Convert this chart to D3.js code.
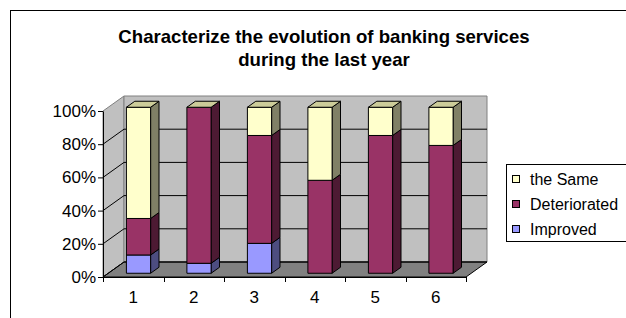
<!DOCTYPE html>
<html>
<head>
<meta charset="utf-8">
<script src="https://cdn.jsdelivr.net/npm/d3@7"></script>
<style>
  body { margin: 0; background: #fff; }
  svg { display: block; font-family: "Liberation Sans", Arial, sans-serif; }
</style>
</head>
<body>
<svg id="chart" width="626" height="318"></svg>
<script>
// chart data
const categories = ['1', '2', '3', '4', '5', '6'];
const seriesNames = ['Improved', 'Deteriorated', 'the Same'];
const improved = [11, 6, 18, 0, 0, 0];
const deteriorated = [22, 94, 65, 56, 83, 77];
const same = [67, 0, 17, 44, 17, 23];
const yTicks = [0, 20, 40, 60, 80, 100];
const titleLines = ['Characterize the evolution of banking services', 'during the last year'];

const colors = {
    'Improved': { front: '#9999ff', side: '#4d4d80' },
    'Deteriorated': { front: '#993366', side: '#4d1a33' },
    'the Same': { front: '#ffffcc', side: '#808066', top: '#cccc99' }
};

const svg = d3.select('#chart');

// depth offset of the 3d box (back wall relative to front plane)
const DX = 21, DY = 15;
const zFront = 0.25, zBack = 0.65;

const x = d3.scaleBand().domain(categories).range([103, 466]);
const y = d3.scaleLinear().domain([0, 100]).range([277, 111]);

const P = (px, v, z) => [px + z * DX, y(v) - z * DY];
const poly = pts => 'M' + pts.map(p => p.join(',')).join('L') + 'Z';

// outer frame
svg.append('rect')
    .attr('x', 10.5).attr('y', 10.5)
    .attr('width', 700).attr('height', 400)
    .attr('fill', '#fff').attr('stroke', '#000');

// title
svg.append('g').selectAll('text')
    .data(titleLines)
    .join('text')
    .attr('x', 324)
    .attr('y', (d, i) => 43 + i * 23)
    .attr('text-anchor', 'middle')
    .attr('font-size', 18.6)
    .attr('font-weight', 'bold')
    .text(d => d);

const x0 = x.range()[0], x1 = x.range()[1];

// walls and floor
const walls = svg.append('g');
walls.append('path')
    .attr('d', poly([P(x0, 0, 0), P(x0, 100, 0), P(x0, 100, 1), P(x0, 0, 1)]))
    .attr('fill', '#c0c0c0').attr('stroke', '#808080');
walls.append('path')
    .attr('d', poly([P(x0, 0, 1), P(x0, 100, 1), P(x1, 100, 1), P(x1, 0, 1)]))
    .attr('fill', '#c0c0c0').attr('stroke', '#808080');
walls.append('path')
    .attr('d', poly([P(x0, 0, 0), P(x1, 0, 0), P(x1, 0, 1), P(x0, 0, 1)]))
    .attr('fill', '#808080').attr('stroke', '#000');

// gridlines on side and back wall
walls.selectAll('path.grid')
    .data(yTicks.filter(d => d > 0 && d < 100))
    .join('path')
    .attr('class', 'grid')
    .attr('d', d => 'M' + [P(x0, d, 0), P(x0, d, 1), P(x1, d, 1)].map(p => p.join(',')).join('L'))
    .attr('fill', 'none').attr('stroke', '#000');
walls.append('path')
    .attr('d', 'M' + [P(x0, 0, 0), P(x0, 0, 1), P(x1, 0, 1)].map(p => p.join(',')).join('L'))
    .attr('fill', 'none').attr('stroke', '#000');

// stacked bars
const table = categories.map((c, i) => ({
    cat: c, 'Improved': improved[i], 'Deteriorated': deteriorated[i], 'the Same': same[i]
}));
const stack = d3.stack().keys(seriesNames)(table);

const barW = x.bandwidth() * 0.4;
const bars = svg.append('g');
categories.forEach((c, i) => {
    const left = x(c) + (x.bandwidth() - barW) / 2;
    const right = left + barW;
    stack.forEach(s => {
        const [v0, v1] = s[i];
        if (v1 - v0 <= 0) return;
        const col = colors[s.key];
        bars.append('path')
            .attr('d', poly([P(right, v0, zFront), P(right, v1, zFront), P(right, v1, zBack), P(right, v0, zBack)]))
            .attr('fill', col.side).attr('stroke', '#000').attr('stroke-linejoin', 'round');
        bars.append('path')
            .attr('d', poly([P(left, v0, zFront), P(right, v0, zFront), P(right, v1, zFront), P(left, v1, zFront)]))
            .attr('fill', col.front).attr('stroke', '#000').attr('stroke-linejoin', 'round');
    });
    const topV = stack[stack.length - 1][i][1];
    bars.append('path')
        .attr('d', poly([P(left, topV, zFront), P(right, topV, zFront), P(right, topV, zBack), P(left, topV, zBack)]))
        .attr('fill', colors['the Same'].top).attr('stroke', '#000').attr('stroke-linejoin', 'round');
});

// value axis
svg.append('g')
    .attr('transform', `translate(${x0},0)`)
    .call(d3.axisLeft(y).tickValues(yTicks).tickFormat(d => d + '%').tickSize(5).tickPadding(2).tickSizeOuter(0))
    .call(g => g.select('.domain').attr('stroke', '#000'))
    .call(g => g.selectAll('text').attr('font-size', 17).attr('font-family', '"Liberation Sans", Arial, sans-serif').attr('fill', '#000'));

// category axis
const catAxis = svg.append('g');
catAxis.append('line')
    .attr('x1', x0).attr('x2', x1).attr('y1', y(0) + 0.5).attr('y2', y(0) + 0.5)
    .attr('stroke', '#000');
catAxis.selectAll('line.tick')
    .data(categories.map(c => x(c)).concat([x1]))
    .join('line')
    .attr('class', 'tick')
    .attr('x1', d => Math.round(d) + 0.5).attr('x2', d => Math.round(d) + 0.5)
    .attr('y1', y(0)).attr('y2', y(0) + 5)
    .attr('stroke', '#000');
catAxis.selectAll('text')
    .data(categories)
    .join('text')
    .attr('x', d => x(d) + x.bandwidth() / 2)
    .attr('y', 303)
    .attr('text-anchor', 'middle')
    .attr('font-size', 17)
    .text(d => d);

// legend
const legend = svg.append('g').attr('transform', 'translate(506.5,164.5)');
legend.append('rect')
    .attr('width', 200).attr('height', 77)
    .attr('fill', '#fff').attr('stroke', '#000');
const items = seriesNames.slice().reverse();
const li = legend.selectAll('g.item')
    .data(items)
    .join('g')
    .attr('class', 'item')
    .attr('transform', (d, i) => `translate(6,${14.5 + i * 25})`);
li.append('rect')
    .attr('x', 0).attr('y', -3.5).attr('width', 7).attr('height', 7)
    .attr('fill', d => colors[d].front).attr('stroke', '#000');
li.append('text')
    .attr('x', 17.5).attr('y', 0)
    .attr('dy', '0.35em')
    .attr('font-size', 16)
    .text(d => d);
</script>
</body>
</html>
